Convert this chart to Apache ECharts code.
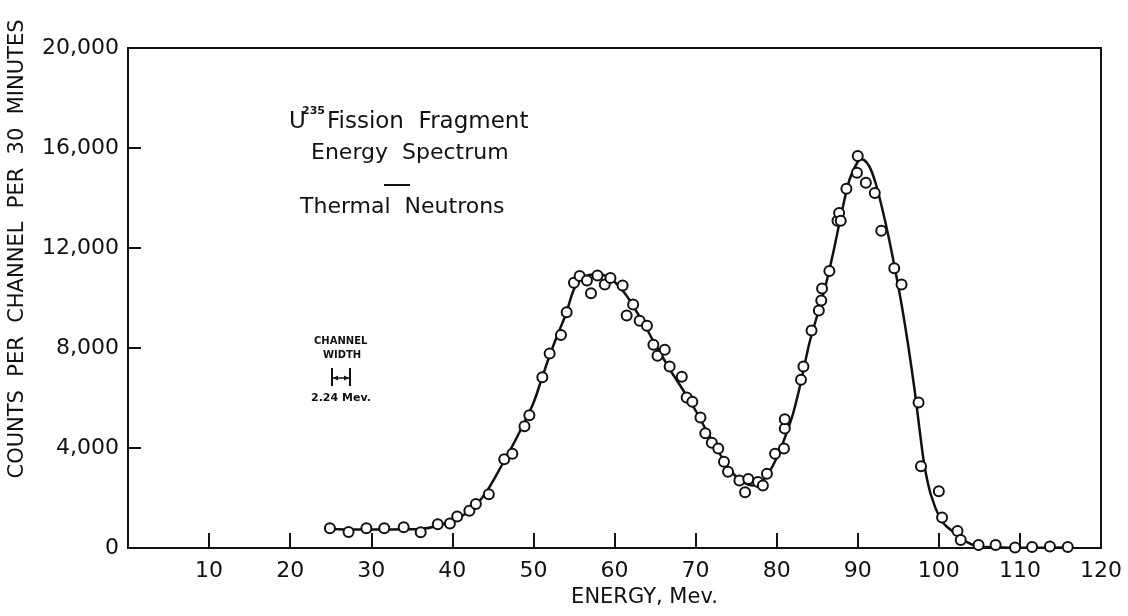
<!DOCTYPE html>
<html>
<head>
<meta charset="utf-8">
<title>U235 Fission Fragment Energy Spectrum</title>
<script src="https://cdn.jsdelivr.net/npm/echarts@6/dist/echarts.min.js"></script>
<style>
    html, body { margin: 0; padding: 0; background: #fff; }
    #chart { width: 1128px; height: 616px; }
</style>
</head>
<body>
<div id="chart"></div>
<script>
// measured points (energy in Mev, counts per channel)
const pointEnergy = [
    24.9, 27.2, 29.4, 31.6, 34.0, 36.1, 38.2, 39.7, 40.6, 42.1,
    42.9, 44.5, 46.4, 47.4, 48.9, 49.5, 51.1, 52.0, 53.4, 54.1,
    55.0, 55.7, 56.6, 57.1, 57.9, 58.8, 59.5, 61.0, 61.5, 62.3,
    63.1, 64.0, 64.8, 65.3, 66.2, 66.8, 68.3, 68.9, 69.6, 70.6,
    71.2, 72.0, 72.8, 73.5, 74.0, 75.4, 76.1, 76.5, 77.7, 78.3,
    78.8, 79.8, 80.9, 81.0, 81.0, 83.0, 83.3, 84.3, 85.2, 85.5,
    85.6, 86.5, 87.5, 87.7, 87.9, 88.6, 89.9, 90.0, 91.0, 92.1,
    92.9, 94.5, 95.4, 97.5, 97.8, 100.0, 100.4, 102.3, 102.7, 104.9,
    107.0, 109.4, 111.5, 113.7, 115.9
];
const pointCounts = [
    790, 640, 790, 790, 830, 630, 950, 980, 1260, 1490,
    1760, 2150, 3550, 3770, 4870, 5310, 6830, 7780, 8520, 9430,
    10610, 10880, 10700, 10190, 10900, 10540, 10800, 10500, 9300, 9740,
    9090, 8890, 8130, 7690, 7930, 7260, 6850, 6020, 5850, 5220,
    4590, 4210, 3980, 3450, 3050, 2700, 2230, 2760, 2640, 2500,
    2970, 3770, 3980, 4780, 5150, 6730, 7260, 8700, 9500, 9900,
    10380, 11080, 13090, 13400, 13090, 14370, 15010, 15680, 14610, 14200,
    12690, 11190, 10540, 5820, 3270, 2270, 1220, 680, 320, 120,
    120, 20, 40, 60, 40
];

// fitted curve
const curveEnergy = [
    25, 28, 31, 34, 36, 38, 40, 42, 44, 46,
    48, 50, 51, 52, 53, 54, 55, 56, 57, 58,
    59, 60, 61, 62, 63, 64, 65, 66, 67, 68,
    70, 72, 74, 75, 76, 77, 78, 79, 80, 81,
    82, 83, 84, 85, 86, 87, 88, 89, 90, 90.5,
    91.4, 92.2, 93, 93.8, 94.6, 95.4, 96.2, 97, 97.6, 98.2,
    99, 100.2, 101, 102, 103, 104, 105, 107, 110, 116
];
const curveCounts = [
    760, 740, 740, 750, 760, 870, 1100, 1450, 2150, 3250,
    4450, 5800, 6750, 7700, 8550, 9350, 10350, 10800, 10930, 10950,
    10880, 10650, 10300, 9850, 9300, 8750, 8150, 7600, 7050, 6550,
    5500, 4300, 3250, 2850, 2600, 2500, 2600, 3000, 3600, 4400,
    5350, 6650, 8150, 9300, 10450, 11850, 13400, 14750, 15450, 15550,
    15280, 14600, 13600, 12450, 11150, 9750, 8150, 6350, 4800, 3350,
    2150, 1150, 850, 600, 330, 150, 60, 30, 10, 20
];

const xTicks = [0, 10, 20, 30, 40, 50, 60, 70, 80, 90, 100, 110, 120];
const yTicks = [0, 4000, 8000, 12000, 16000, 20000];

const ink = '#111';
const font = 'DejaVu Sans';

let points = pointEnergy.map(function (e, i) { return [e, pointCounts[i]]; });
let curve = curveEnergy.map(function (e, i) { return [e, curveCounts[i]]; });

const option = {
    backgroundColor: '#fff',
    animation: false,
    grid: {
        left: 128,
        right: 27,
        top: 48,
        bottom: 68,
        outerBoundsMode: 'none',
        containLabel: false,
        show: true,
        borderColor: ink,
        borderWidth: 2
    },
    xAxis: {
        type: 'value',
        min: xTicks[0],
        max: xTicks[xTicks.length - 1],
        interval: 10,
        name: 'ENERGY, Mev.',
        nameLocation: 'middle',
        nameGap: 28,
        nameTextStyle: { color: ink, fontFamily: font, fontSize: 21, padding: [0, 0, 0, 60] },
        axisLine: { lineStyle: { color: ink, width: 2 } },
        axisTick: { inside: true, length: 15, lineStyle: { color: ink, width: 2 } },
        axisLabel: {
            color: ink,
            fontFamily: font,
            fontSize: 22,
            margin: 12,
            formatter: function (v) { return v === 0 ? '' : String(v); }
        },
        splitLine: { show: false }
    },
    yAxis: {
        type: 'value',
        min: yTicks[0],
        max: yTicks[yTicks.length - 1],
        interval: 4000,
        name: 'COUNTS  PER  CHANNEL  PER  30  MINUTES',
        nameLocation: 'middle',
        nameRotate: 90,
        nameGap: 100,
        nameTextStyle: { color: ink, fontFamily: font, fontSize: 21, padding: [0, 0, 0, 98] },
        axisLine: { show: true, lineStyle: { color: ink, width: 2 } },
        axisTick: { show: true, inside: true, length: 13, lineStyle: { color: ink, width: 2 } },
        axisLabel: {
            color: ink,
            fontFamily: font,
            fontSize: 22,
            margin: 9,
            formatter: function (v) { return v.toLocaleString('en-US'); }
        },
        splitLine: { show: false }
    },
    graphic: [
        // title block
        { type: 'text', left: 289, top: 111, style: { text: 'U', fill: ink, font: '23px "DejaVu Sans"' } },
        { type: 'text', left: 302, top: 106, style: { text: '235', fill: ink, font: 'bold 11px "DejaVu Sans"' } },
        { type: 'text', left: 327, top: 111, style: { text: 'Fission  Fragment', fill: ink, font: '23px "DejaVu Sans"' } },
        { type: 'text', left: 311, top: 142, style: { text: 'Energy  Spectrum', fill: ink, font: '22px "DejaVu Sans"' } },
        { type: 'line', shape: { x1: 384, y1: 185, x2: 410, y2: 185 }, style: { stroke: ink, lineWidth: 2 } },
        { type: 'text', left: 300, top: 196, style: { text: 'Thermal  Neutrons', fill: ink, font: '22px "DejaVu Sans"' } },

        // channel width marker
        { type: 'text', left: 314, top: 336, style: { text: 'CHANNEL', fill: ink, font: 'bold 10px "DejaVu Sans"' } },
        { type: 'text', left: 323, top: 350, style: { text: 'WIDTH', fill: ink, font: 'bold 10px "DejaVu Sans"' } },
        { type: 'line', shape: { x1: 332, y1: 368, x2: 332, y2: 386 }, style: { stroke: ink, lineWidth: 2 } },
        { type: 'line', shape: { x1: 350, y1: 368, x2: 350, y2: 386 }, style: { stroke: ink, lineWidth: 2 } },
        { type: 'line', shape: { x1: 333, y1: 378, x2: 349, y2: 378 }, style: { stroke: ink, lineWidth: 1.5 } },
        { type: 'polygon', shape: { points: [[333, 378], [338, 375.5], [338, 380.5]] }, style: { fill: ink } },
        { type: 'polygon', shape: { points: [[349, 378], [344, 375.5], [344, 380.5]] }, style: { fill: ink } },
        { type: 'text', left: 311, top: 393, style: { text: '2.24 Mev.', fill: ink, font: 'bold 11px "DejaVu Sans"' } }
    ],
    series: [
        {
            name: 'curve',
            type: 'line',
            data: curve,
            smooth: 0.3,
            showSymbol: false,
            lineStyle: { color: ink, width: 2.5 },
            z: 2
        },
        {
            name: 'counts',
            type: 'scatter',
            data: points,
            symbol: 'circle',
            symbolSize: 10,
            itemStyle: { color: '#fff', borderColor: ink, borderWidth: 2, opacity: 1 },
            z: 3
        }
    ]
};

let chart = echarts.init(document.getElementById('chart'));
chart.setOption(option);
window.addEventListener('resize', function () {
    chart.resize();
});
</script>
</body>
</html>
